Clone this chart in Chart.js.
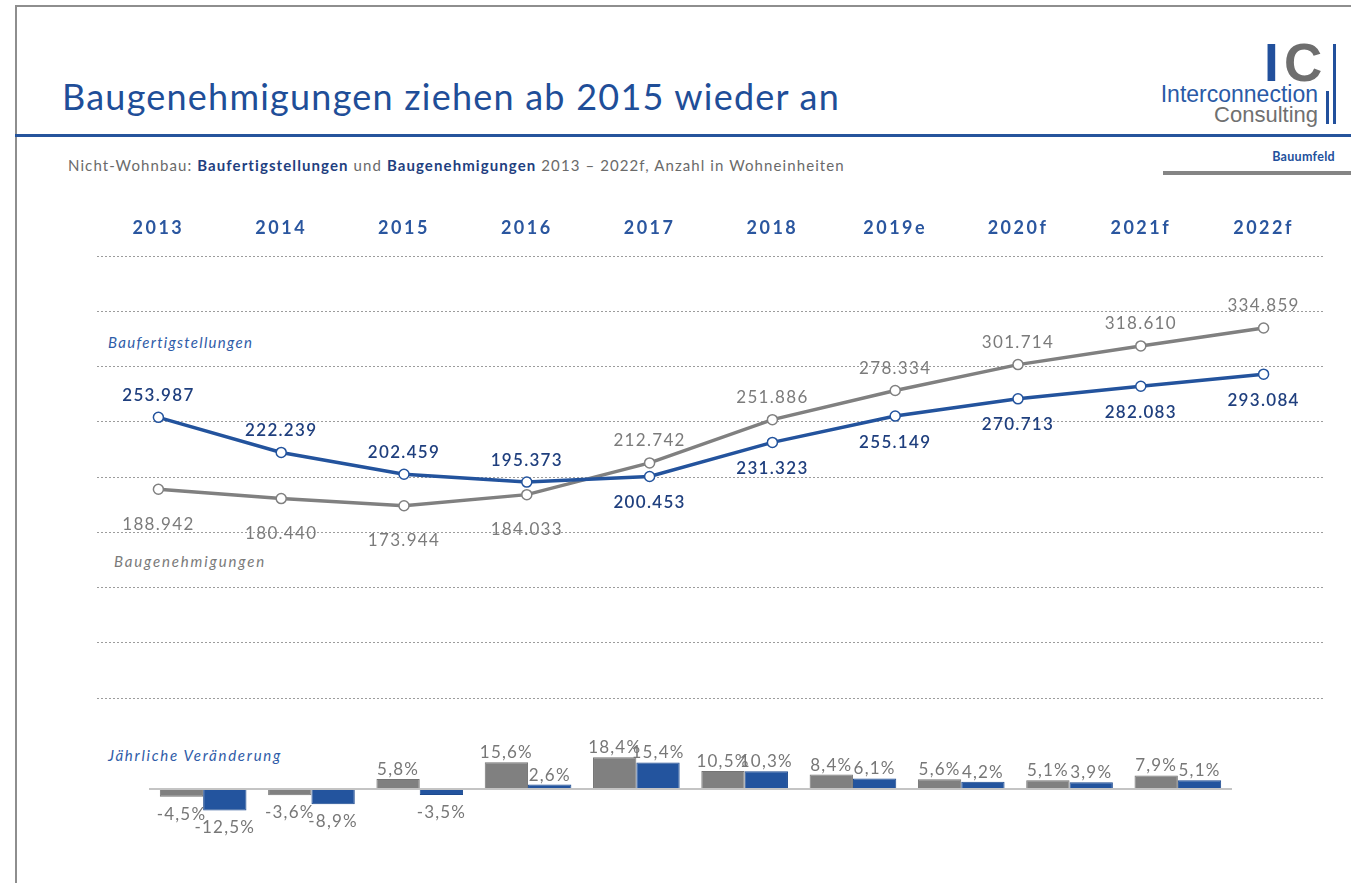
<!DOCTYPE html>
<html>
<head>
<meta charset="utf-8">
<script src="https://cdn.jsdelivr.net/npm/chart.js@4.4.0/dist/chart.umd.min.js"></script>
<style>
  html, body { margin:0; padding:0; background:#fff; }
  body { width:1351px; height:883px; position:relative; overflow:hidden; font-family:Lato, "Open Sans", sans-serif; }
  .abs { position:absolute; white-space:nowrap; }
  #frame { left:15px; top:5px; width:1400px; height:900px; border-left:2px solid #8e8e8e; border-top:2px solid #8e8e8e; }
  #title { left:62px; top:75px; font-size:36px; color:#1f4e98; line-height:42px; }
  #rule { left:15px; top:134px; width:1340px; height:3px; background:#26549c; }
  #sub { left:68px; top:156px; font-size:15px; color:#6a6a6a; line-height:18px; }
  #sub b { color:#1f3f80; font-weight:700; }
  #logoI { left:1264px; top:33px; font:bold 53px "Liberation Sans", Arial, sans-serif; color:#22509c; line-height:60px; }
  #logoC { left:1284px; top:33px; font:bold 53px "Liberation Sans", Arial, sans-serif; color:#6e6e6e; line-height:60px; }
  #barLong { left:1333px; top:44px; width:3px; height:80px; background:#22509c; }
  #barShort { left:1326px; top:91px; width:3px; height:33px; background:#22509c; }
  #inter { right:33px; top:83px; font:23px "Liberation Sans", Arial, sans-serif; color:#2a5aa6; line-height:22px; }
  #cons { right:33px; top:104px; font:22px "Liberation Sans", Arial, sans-serif; color:#707070; line-height:22px; }
  #bauumfeld { right:16px; top:148px; font-size:12.5px; font-weight:700; color:#22509c; line-height:18px; letter-spacing:0.3px; }
  #grayrule { left:1163px; top:171px; width:200px; height:4px; background:#858585; }
  .serieslab { font-style:italic; font-size:15px; line-height:18px; }
  #labF { left:108px; top:333px; color:#2f5ca8; }
  #labG { left:114px; top:552px; color:#7a7a7a; }
  #labJ { left:108px; top:746px; color:#2f5ca8; }
  canvas { position:absolute; }
</style>
</head>
<body>
<div id="frame" class="abs"></div>
<div id="title" class="abs">Baugenehmigungen ziehen ab 2015 wieder an</div>
<div id="rule" class="abs"></div>
<div id="sub" class="abs">Nicht-Wohnbau: <b>Baufertigstellungen</b> und <b>Baugenehmigungen</b> 2013 – 2022f, Anzahl in Wohneinheiten</div>
<div id="logoI" class="abs">I</div>
<div id="logoC" class="abs">C</div>
<div id="barLong" class="abs"></div>
<div id="barShort" class="abs"></div>
<div id="inter" class="abs">Interconnection</div>
<div id="cons" class="abs">Consulting</div>
<div id="bauumfeld" class="abs">Bauumfeld</div>
<div id="grayrule" class="abs"></div>
<div id="labF" class="abs serieslab">Baufertigstellungen</div>
<div id="labG" class="abs serieslab">Baugenehmigungen</div>
<div id="labJ" class="abs serieslab">Jährliche Veränderung</div>

<canvas id="lineChart" width="1351" height="540" style="left:0;top:180px;width:1351px;height:540px"></canvas>
<canvas id="barChart" width="1351" height="120" style="left:0;top:730px;width:1351px;height:120px"></canvas>

<script>
// ---- data ----
const years = ['2013', '2014', '2015', '2016', '2017', '2018', '2019e', '2020f', '2021f', '2022f'];
const baufertigstellungen = [253987, 222239, 202459, 195373, 200453, 231323, 255149, 270713, 282083, 293084];
const baugenehmigungen   = [188942, 180440, 173944, 184033, 212742, 251886, 278334, 301714, 318610, 334859];
const changeGenehmigungen   = [-4.5, -3.6, 5.8, 15.6, 18.4, 10.5, 8.4, 5.6, 5.1, 7.9];
const changeFertigstellungen = [-12.5, -8.9, -3.5, 2.6, 15.4, 10.3, 6.1, 4.2, 3.9, 5.1];
const valueAxisMax = 400000;
const valueAxisStep = 50000;
// label placement per point (above / below the point)
const placeFertig = ['above','above','above','above','below','below','below','below','below','below'];
const placeGenehm = ['below','below','below','below','above','above','above','above','above','above'];

// ---- helpers ----
function fmtThousands(v) { return String(v).replace(/\B(?=(\d{3})+(?!\d))/g, '.'); }
function fmtPct(v) { return v.toFixed(1).replace('.', ',') + '%'; }
function fitWidth(id, target) {
  const el = document.getElementById(id);
  const n = el.textContent.length;
  const w = el.getBoundingClientRect().width;
  el.style.letterSpacing = ((target - w) / n) + 'px';
}
fitWidth('title', 778);
fitWidth('sub', 777);
fitWidth('labF', 145);
fitWidth('labG', 152);
fitWidth('labJ', 174);

const BLUE = '#23539d';
const GRAY = '#808080';
const FONT = 'Lato, "Open Sans", sans-serif';

const lineLabels = {
  id: 'lineLabels',
  beforeDraw(chart) { chart.ctx.letterSpacing = '2.5px'; },
  beforeDatasetsDraw(chart) { chart.ctx.letterSpacing = '0px'; },
  afterDatasetsDraw(chart) {
    const ctx = chart.ctx;
    ctx.save();
    ctx.letterSpacing = '1.3px';
    ctx.textAlign = 'center';
    ctx.textBaseline = 'middle';
    chart.data.datasets.forEach((ds, i) => {
      const meta = chart.getDatasetMeta(i);
      const place = ds.place;
      meta.data.forEach((el, j) => {
        const above = place[j] === 'above';
        let dy = above ? -22 : (i === 0 ? 26 : 35);
        ctx.font = (i === 0 ? '600 ' : '400 ') + '17px ' + FONT;
        ctx.fillStyle = i === 0 ? '#1f3f7e' : '#7b7b7b';
        ctx.fillText(fmtThousands(ds.data[j]), el.x, el.y + dy);
      });
    });
    ctx.restore();
  }
};

new Chart(document.getElementById('lineChart'), {
  type: 'line',
  data: {
    labels: years,
    datasets: [
      { label: 'Baufertigstellungen', data: baufertigstellungen, place: placeFertig,
        borderColor: BLUE, borderWidth: 3.5, pointRadius: 5, pointBorderWidth: 1.5,
        pointBackgroundColor: '#fff', pointBorderColor: BLUE, tension: 0, order: 0 },
      { label: 'Baugenehmigungen', data: baugenehmigungen, place: placeGenehm,
        borderColor: GRAY, borderWidth: 3.5, pointRadius: 5, pointBorderWidth: 1.5,
        pointBackgroundColor: '#fff', pointBorderColor: GRAY, tension: 0, order: 1 }
    ]
  },
  options: {
    responsive: false, animation: false,
    layout: { padding: { left: 97, right: 26, top: 0, bottom: 22 } },
    plugins: { legend: { display: false }, tooltip: { enabled: false } },
    scales: {
      x: {
        position: 'top', offset: true,
        grid: { display: false, drawTicks: false },
        border: { display: false },
        ticks: { color: '#2a569f', font: { family: FONT, size: 18, weight: 'bold' }, padding: 17, maxRotation: 0, autoSkip: false },
        afterFit(s) { s.height = 76; }
      },
      y: {
        min: 0, max: valueAxisMax,
        ticks: { display: false, stepSize: valueAxisStep },
        grid: { color: '#9c9c9c', lineWidth: 1, drawTicks: false, borderDash: [2, 2] },
        border: { display: false, dash: [2, 2] },
        afterFit(s) { s.width = 0; }
      }
    }
  },
  plugins: [lineLabels]
});

const barLabels = {
  id: 'barLabels',
  afterDatasetsDraw(chart) {
    const ctx = chart.ctx;
    ctx.save();
    ctx.letterSpacing = '1.2px';
    ctx.textAlign = 'center';
    ctx.font = '17px ' + FONT;
    ctx.fillStyle = '#777777';
    chart.data.datasets.forEach((ds, i) => {
      const meta = chart.getDatasetMeta(i);
      meta.data.forEach((el, j) => {
        const v = ds.data[j];
        if (v >= 0) { ctx.textBaseline = 'bottom'; ctx.fillText(fmtPct(v), el.x, el.y - 1); }
        else { ctx.textBaseline = 'top'; ctx.fillText(fmtPct(v), el.x, el.y + 9); }
      });
    });
    ctx.restore();
  }
};

new Chart(document.getElementById('barChart'), {
  type: 'bar',
  data: {
    labels: years,
    datasets: [
      { label: 'Baugenehmigungen', data: changeGenehmigungen, backgroundColor: '#808080', borderColor: '#747474', borderWidth: 1 },
      { label: 'Baufertigstellungen', data: changeFertigstellungen, backgroundColor: '#23549e', borderColor: '#1d4a8e', borderWidth: 1 }
    ]
  },
  options: {
    responsive: false, animation: false,
    layout: { padding: { left: 149, right: 119, top: 16, bottom: 26.6 } },
    plugins: { legend: { display: false }, tooltip: { enabled: false } },
    datasets: { bar: { categoryPercentage: 0.8, barPercentage: 1.0 } },
    scales: {
      x: { display: false },
      y: {
        min: -20, max: 25,
        ticks: { display: false, stepSize: 5 },
        grid: { drawTicks: false, lineWidth: 2, color: (c) => (c.tick && c.tick.value === 0) ? '#c4c4c4' : 'rgba(0,0,0,0)' },
        border: { display: false },
        afterFit(s) { s.width = 0; }
      }
    }
  },
  plugins: [barLabels]
});
</script>
</body>
</html>
